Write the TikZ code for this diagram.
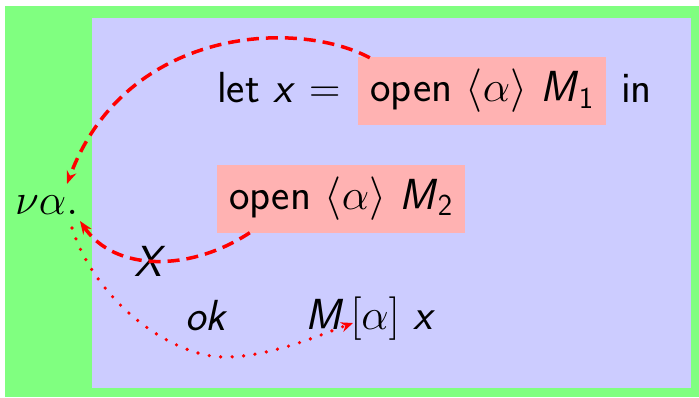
\RequirePackage{fix-cm}
\documentclass[tikz,border=0pt]{standalone}
\usetikzlibrary{arrows.meta,calc}
\begin{document}
\begin{tikzpicture}[x=1pt,y=-1pt,
  every node/.style={font=\fontsize{43.5}{50}\selectfont\sffamily, inner sep=0pt},
  pinkbox/.style={fill=red!30, minimum width=248pt, minimum height=68pt},
  dasharrow/.style={red, line width=3.5pt, dash pattern=on 12pt off 7pt, -{Stealth[length=13pt,width=10pt]}},
  dotarrow/.style={red, line width=3.6pt, dash pattern=on 0pt off 11.5pt, line cap=round, -{Stealth[length=12pt,width=10pt]}}
]
\useasboundingbox (0,0) rectangle (699,397);
\fill[green!50] (5,6) rectangle (699,397);
\fill[blue!20] (92,18) rectangle (691,388);

\node[pinkbox] (p1) at (482,91) {open $\langle\alpha\rangle$ \textit{M}$_{\mathsf{1}}$};
\node[pinkbox] (p2) at (341,198.5) {open $\langle\alpha\rangle$ \textit{M}$_{\mathsf{2}}$};
\node[anchor=base west] (let) at (217,102) {let \textit{x} $=$};
\node[anchor=base west] (in) at (621,102) {in};
\node[anchor=base west] (nu) at (15,214) {$\nu\alpha.$};
\node[anchor=base] (X) at (150,276) {\textit{X}};
\node[anchor=base west] (ok) at (185,330) {\textit{ok}};
\node[anchor=base west] (M) at (305,329) {\textit{M}\,$[\alpha]$ \textit{x}};

\draw[dasharrow] ($(p1.north west)+(12,1)$) .. controls (295,18) and (125,28) .. ($(nu.base west)+(52,-30)$);
\draw[dasharrow] ($(p2.south west)+(33,0)$) .. controls (190,272) and (115,272) .. ($(nu.base west)+(65,7)$);
\draw[dotarrow] ($(nu.base west)+(57,14)$) .. controls (95,300) and (170,357) .. (225,357)
   .. controls (270,357) and (320,335) .. ($(M.base west)+(48,-6)$);
\end{tikzpicture}
\end{document}
